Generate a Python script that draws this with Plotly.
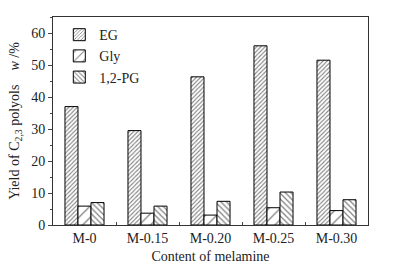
import plotly.graph_objects as go

categories = ["M-0", "M-0.15", "M-0.20", "M-0.25", "M-0.30"]
eg = [37.0, 29.5, 46.3, 56.0, 51.5]
gly = [5.9, 3.7, 3.1, 5.4, 4.5]
pg = [7.0, 5.9, 7.4, 10.3, 7.9]

fig = go.Figure()
series = [("EG", eg, "/", 3, 0.35), ("Gly", gly, "/", 8, 0.15), ("1,2-PG", pg, "\\", 4, 0.3)]
for name, vals, shape, size, sol in series:
    fig.add_trace(go.Bar(
        x=categories, y=vals, name=name,
        marker=dict(color="white", line=dict(color="black", width=1),
                    pattern=dict(shape=shape, size=size, solidity=sol, fgcolor="black", bgcolor="white")),
    ))

fam = "Liberation Serif"
fig.update_layout(
    width=393, height=266,
    margin=dict(l=53, r=25, t=17, b=41, autoexpand=False),
    paper_bgcolor="white", plot_bgcolor="white",
    barmode="group", bargap=0.38, bargroupgap=0,
    font=dict(family=fam, size=14, color="#222"),
    showlegend=True,
    legend=dict(x=0.02, y=0.99, xanchor="left", yanchor="top", bgcolor="rgba(0,0,0,0)",
                font=dict(family=fam, size=14), tracegroupgap=0, itemwidth=30),
)
fig.update_xaxes(
    range=[-0.5, 4.5], showline=True, linecolor="#333", linewidth=1, mirror=True,
    ticks="inside", ticklen=3, tickson="boundaries", showgrid=False, automargin=False,
    title=dict(text="Content of melamine", standoff=6, font=dict(family=fam, size=14)),
    tickfont=dict(family=fam, size=14),
)
fig.update_yaxes(
    range=[0, 65], dtick=10, showline=True, linecolor="#333", linewidth=1, mirror=True,
    ticks="outside", ticklen=4, showgrid=False, zeroline=False, automargin=False,
    minor=dict(dtick=5, ticks="outside", ticklen=2),
    title=dict(text="Yield of C<sub>2,3</sub> polyols    <i>w</i> /%", standoff=8, font=dict(family=fam, size=14)),
    tickfont=dict(family=fam, size=14),
)
fig.write_html("out.html", config={"displayModeBar": False},
               post_script="document.body.style.margin='0';document.body.style.overflow='hidden';")
